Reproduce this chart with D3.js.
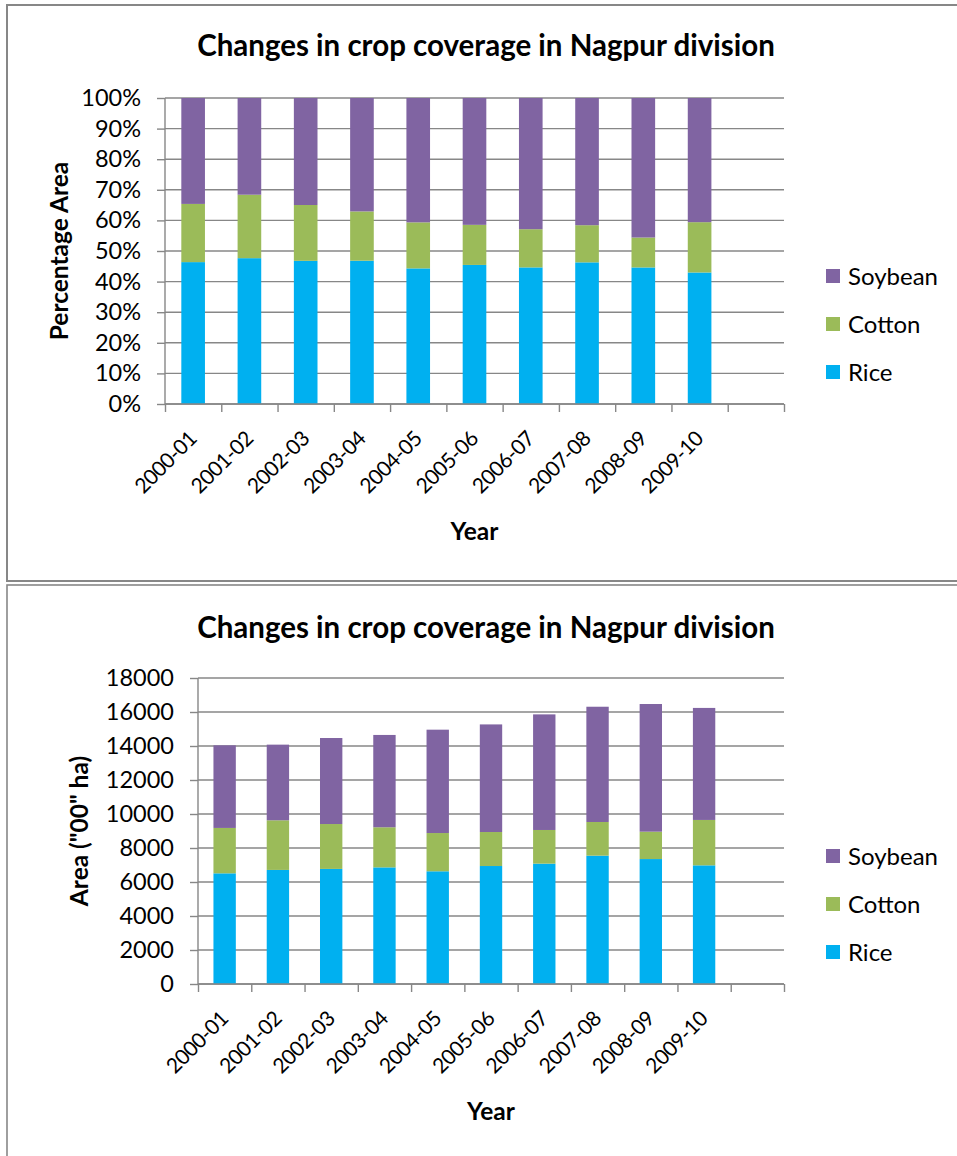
<!DOCTYPE html>
<html>
<head>
<meta charset="utf-8">
<script src="https://cdn.jsdelivr.net/npm/d3@7"></script>
<style>
  html, body { margin: 0; padding: 0; background: #fff; }
  svg { display: block; font-family: Lato, "Open Sans", sans-serif; }
</style>
</head>
<body>
<svg id="chart" width="957" height="1156"></svg>
<script>
// ---- data ----
const years = ["2000-01", "2001-02", "2002-03", "2003-04", "2004-05", "2005-06", "2006-07", "2007-08", "2008-09", "2009-10"];
const rice = [6510, 6710, 6770, 6860, 6630, 6940, 7080, 7550, 7350, 6980];
const cotton = [2670, 2920, 2640, 2360, 2250, 2000, 1980, 1980, 1610, 2670];
const soybean = [4860, 4450, 5060, 5430, 6080, 6330, 6800, 6780, 7510, 6590];
const seriesNames = ["Rice", "Cotton", "Soybean"];
const legendOrder = ["Soybean", "Cotton", "Rice"];
const pctTicks = [0, 0.1, 0.2, 0.3, 0.4, 0.5, 0.6, 0.7, 0.8, 0.9, 1.0];
const areaTicks = [0, 2000, 4000, 6000, 8000, 10000, 12000, 14000, 16000, 18000];
const titleText = "Changes in crop coverage in Nagpur division";

const colors = { Rice: "#00B0F0", Cotton: "#9BBB59", Soybean: "#8064A2" };
const gridColor = "#878787";

const table = years.map((y, i) => ({ year: y, Rice: rice[i], Cotton: cotton[i], Soybean: soybean[i] }));
const svg = d3.select("#chart");

// outer frames
svg.append("rect").attr("x", 7).attr("y", 5).attr("width", 960).attr("height", 576)
  .attr("fill", "none").attr("stroke", "#878787").attr("stroke-width", 2);
svg.append("rect").attr("x", 7).attr("y", 585).attr("width", 960).attr("height", 600)
  .attr("fill", "none").attr("stroke", "#878787").attr("stroke-width", 1.6);

function drawChart(opt) {
  const g = svg.append("g");
  const nSlots = years.length + 1;
  const stack = d3.stack().keys(seriesNames);
  if (opt.expand) stack.offset(d3.stackOffsetExpand);
  const layers = stack(table);

  const xBand = d3.scaleBand().domain(d3.range(nSlots)).range([opt.x0, opt.x1]).padding(0);
  const xLin = d3.scaleLinear().domain([0, nSlots]).range([opt.x0, opt.x1]);
  const y = d3.scaleLinear().domain(opt.domain).range([opt.y1, opt.y0]);

  // gridlines
  g.append("g").selectAll("line").data(opt.ticks).join("line")
    .attr("x1", opt.x0).attr("x2", opt.x1)
    .attr("y1", d => y(d)).attr("y2", d => y(d))
    .attr("stroke", gridColor).attr("stroke-width", 1.4);

  // bars
  const bw = xBand.bandwidth() * 0.42;
  g.append("g").selectAll("g").data(layers).join("g")
    .attr("fill", d => colors[d.key])
    .selectAll("rect").data(d => d).join("rect")
    .attr("x", (d, i) => xBand(i) + (xBand.bandwidth() - bw) / 2)
    .attr("width", bw)
    .attr("y", d => y(d[1]))
    .attr("height", d => y(d[0]) - y(d[1]));

  // y axis
  const yAxis = d3.axisLeft(y).tickValues(opt.ticks).tickFormat(opt.fmt).tickSize(8).tickPadding(16);
  const ya = g.append("g").attr("transform", `translate(${opt.x0},0)`).call(yAxis);
  ya.select(".domain").attr("stroke", gridColor).attr("stroke-width", 1.4).attr("d", `M0,${opt.y1}V${opt.y0}`);
  ya.selectAll(".tick line").attr("stroke", gridColor).attr("stroke-width", 1.4);
  ya.selectAll(".tick text").attr("font-size", 23.5).attr("fill", "#000").attr("font-family", "Lato");

  // x axis (ticks between categories)
  const xAxis = d3.axisBottom(xLin).tickValues(d3.range(nSlots + 1)).tickFormat("").tickSize(8);
  const xa = g.append("g").attr("transform", `translate(0,${opt.y1})`).call(xAxis);
  xa.select(".domain").attr("stroke", gridColor).attr("stroke-width", 1.4).attr("d", `M${opt.x0},0H${opt.x1}`);
  xa.selectAll(".tick line").attr("stroke", gridColor).attr("stroke-width", 1.4);

  // x labels rotated
  g.append("g").selectAll("text").data(years).join("text")
    .attr("transform", (d, i) => `translate(${xBand(i) + xBand.bandwidth() / 2 + 5},${opt.y1 + 36}) rotate(-45)`)
    .attr("text-anchor", "end")
    .attr("font-size", 21)
    .attr("letter-spacing", -0.5)
    .text(d => d);

  // title
  g.append("text").attr("x", 486).attr("y", opt.titleY)
    .attr("text-anchor", "middle").attr("font-weight", "bold").attr("font-size", 29.5)
    .text(titleText);

  // axis titles
  g.append("text")
    .attr("transform", `translate(${opt.yTitleX},${(opt.y0 + opt.y1) / 2}) rotate(-90)`)
    .attr("text-anchor", "middle").attr("font-weight", "bold").attr("font-size", 24.5)
    .text(opt.yTitle);
  g.append("text").attr("x", (opt.x0 + opt.x1) / 2).attr("y", opt.xTitleY)
    .attr("text-anchor", "middle").attr("font-weight", "bold").attr("font-size", 24.5)
    .text("Year");

  // legend
  const lg = g.append("g").selectAll("g").data(legendOrder).join("g")
    .attr("transform", (d, i) => `translate(826,${opt.legendY + i * 48})`);
  lg.append("rect").attr("x", 0).attr("y", -7).attr("width", 14).attr("height", 14)
    .attr("fill", d => colors[d]);
  lg.append("text").attr("x", 22).attr("y", 8.5).attr("font-size", 24).text(d => d);
}

drawChart({
  expand: true, domain: [0, 1], ticks: pctTicks, fmt: d3.format(".0%"),
  x0: 165, x1: 784, y0: 98, y1: 404,
  titleY: 56, yTitle: "Percentage Area", yTitleX: 68, xTitleY: 540, legendY: 276
});
drawChart({
  expand: false, domain: [0, 18000], ticks: areaTicks, fmt: d3.format("d"),
  x0: 198, x1: 784, y0: 678, y1: 984,
  titleY: 638, yTitle: "Area (\"00\" ha)", yTitleX: 88, xTitleY: 1120, legendY: 856
});
</script>
</body>
</html>
